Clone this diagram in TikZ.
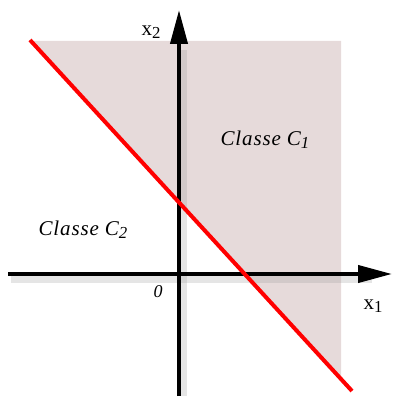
\documentclass[tikz,border=0pt]{standalone}
\usepackage{fontspec}
\setmainfont{Liberation Serif}
\usetikzlibrary{arrows.meta}
\definecolor{region}{HTML}{E6DADA}
\definecolor{sepred}{HTML}{FF0000}
\newcommand{\lowidx}[1]{\raisebox{-0.35ex}{\scalebox{0.8}{#1}}}

\begin{document}
\begin{tikzpicture}[
  x=1pt, y=-1pt,
  >={Triangle[length=34pt,width=17pt]},
  axis/.style={->, line width=4pt, color=black},
  axshadow/.style={line width=7pt, color=black!40, opacity=0.25},
  sep/.style={line width=4pt, color=sepred},
  cls/.style={font=\fontsize{21}{24}\selectfont\itshape\addfontfeature{LetterSpace=4}, inner sep=0pt},
  axlbl/.style={font=\fontsize{21}{24}\selectfont, inner sep=0pt},
]
\useasboundingbox (0,0) rectangle (393,401);

% shaded half plane
\fill[region] (33,41) -- (341,41) -- (341,378) -- cycle;

\coordinate (xl) at (8,274);
\coordinate (xr) at (392,274);
\coordinate (yb) at (179,396);
\coordinate (yt) at (179,10);
\coordinate (sa) at (30,40);
\coordinate (sb) at (352,391);

% axes with soft shadow
\draw[axshadow] ([shift={(3,5)}]xl) -- ([shift={(-20,5)}]xr);
\draw[axshadow] ([shift={(4,0)}]yb) -- ([shift={(4,40)}]yt);
\draw[axis] (xl) -- (xr);
\draw[axis] (yb) -- (yt);

\draw[sep] (sa) -- (sb);

\node[axlbl] (lx2) at (151,32) {x\lowidx{2}};
\node[axlbl] (lx1) at (373,306) {x\lowidx{1}};
\node[axlbl, font=\fontsize{18}{20}\selectfont\itshape] (orig) at (158,292) {0};
\node[cls] (c1) at (265,140) {Classe C\lowidx{1}};
\node[cls] (c2) at (83,230) {Classe C\lowidx{2}};

\end{tikzpicture}
\end{document}
